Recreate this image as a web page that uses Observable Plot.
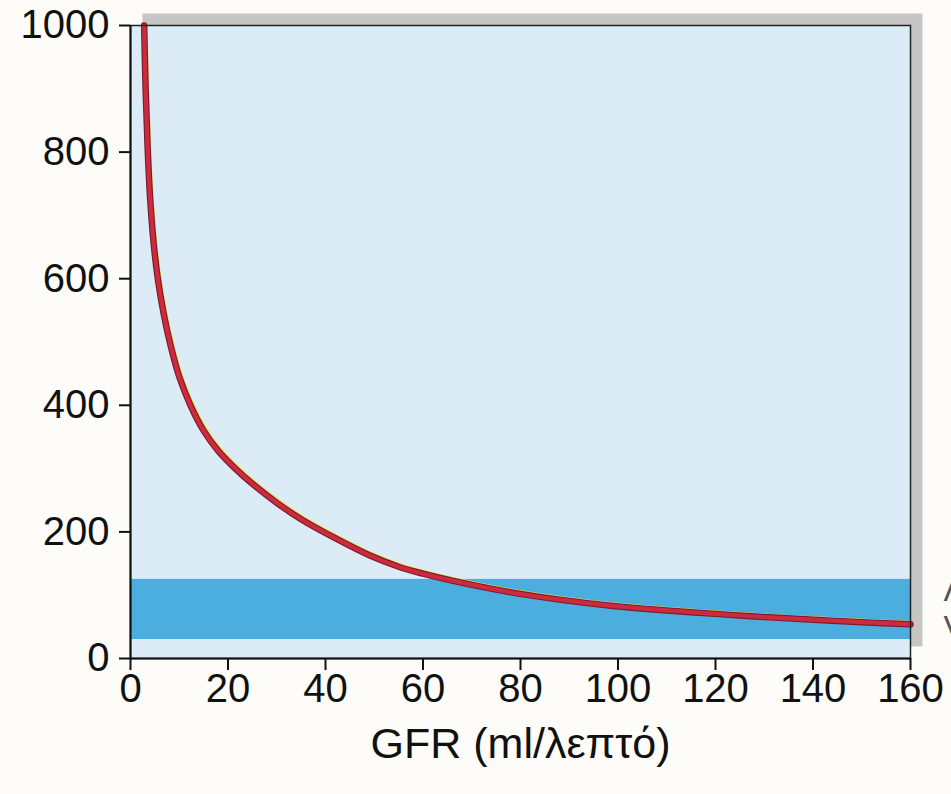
<!DOCTYPE html>
<html>
<head>
<meta charset="utf-8">
<script src="https://cdn.jsdelivr.net/npm/d3@7"></script>
<script src="https://cdn.jsdelivr.net/npm/@observablehq/plot@0.6"></script>
<style>
  html, body { margin: 0; padding: 0; background: #fdfcf8; }
  #chart svg { display: block; }
</style>
</head>
<body>
<div id="chart"></div>
<script>
// GFR (ml/min) vs value
const gfr = [2.8, 3.1, 3.5, 4.0, 4.7, 5.6, 6.8, 8.3, 10, 12.3, 15, 18, 21.5, 25, 30, 35, 42, 49, 55, 60, 66, 77, 88, 99, 110, 120, 131, 142, 151, 160];
const level = [1000, 900, 810, 730, 660, 600, 545, 492, 445, 400, 360, 328, 300, 276, 246, 220, 190, 163, 145, 134, 123, 106, 93, 83, 76, 70.5, 65, 60.5, 57, 54];
// normal range band
const bandLow = 30;
const bandHigh = 125;
const xTicks = [0, 20, 40, 60, 80, 100, 120, 140, 160];
const yTicks = [0, 200, 400, 600, 800, 1000];
const xLabel = "GFR (ml/λεπτό)";
const edgeLabels = [{t: "Λ", v: 107}, {t: "V", v: 49}];

const curve = gfr.map((g, i) => ({gfr: g, level: level[i]}));

const chart = Plot.plot({
  width: 951,
  height: 794,
  marginLeft: 130,
  marginRight: 41,
  marginTop: 25,
  marginBottom: 136,
  style: {fontFamily: "Liberation Sans, Arial, sans-serif", fontSize: "40px", background: "#fdfcf8", color: "#111", overflow: "visible"},
  x: {domain: [0, 160]},
  y: {domain: [0, 1000]},
  marks: [
    Plot.frame({fill: "#c6c6c6", dx: 12, dy: -12}),
    Plot.frame({fill: "#dcecf7"}),
    Plot.rect([{lo: bandLow, hi: bandHigh}], {x1: 0, x2: 160, y1: "lo", y2: "hi", fill: "#4caedf"}),
    Plot.line(curve, {x: "gfr", y: "level", stroke: "#f0e050", strokeWidth: 2.5, dx: 2.2, dy: -2.2, curve: "catmull-rom"}),
    Plot.line(curve, {x: "gfr", y: "level", stroke: "#7c1c2c", strokeWidth: 6.5, curve: "catmull-rom"}),
    Plot.line(curve, {x: "gfr", y: "level", stroke: "#cc2a40", strokeWidth: 4.2, curve: "catmull-rom"}),
    Plot.frame({stroke: "#222", strokeWidth: 1.5}),
    Plot.ruleX([0], {stroke: "#111", strokeWidth: 2}),
    Plot.ruleY([0], {stroke: "#111", strokeWidth: 2}),
    Plot.axisY({ticks: yTicks, tickSize: 11, tickPadding: 10, tickFormat: d => String(d), label: null, fontSize: 40, strokeWidth: 2}),
    Plot.axisX({ticks: xTicks, tickSize: 12, tickPadding: 3, tickFormat: d => String(d), label: null, fontSize: 40, strokeWidth: 2}),
    Plot.text([xLabel], {frameAnchor: "bottom", lineAnchor: "middle", dy: 86, fontSize: 43, text: d => d, fill: "#111"}),
    Plot.text(edgeLabels, {x: 160, y: "v", text: "t", dx: 33, textAnchor: "start", fontSize: 32, fill: "#555"})
  ]
});
document.getElementById("chart").appendChild(chart);
</script>
</body>
</html>
